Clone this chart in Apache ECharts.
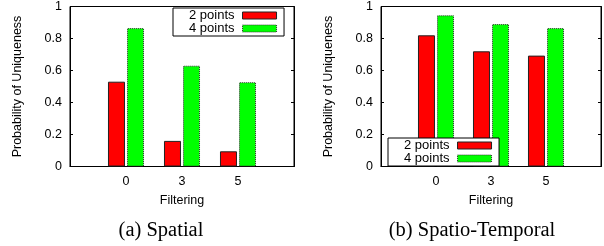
<!DOCTYPE html>
<html>
<head>
<meta charset="utf-8">
<script src="https://cdn.jsdelivr.net/npm/echarts@6/dist/echarts.min.js"></script>
<style>
html,body{margin:0;padding:0;background:#fff;}
#chart{width:604px;height:246px;}
</style>
</head>
<body>
<div id="chart"></div>
<script>
// ---- data ----
var categories = ['', '0', '3', '5', ''];
var seriesNames = ['2 points', '4 points'];
var spatial2 = ['-', 0.53, 0.16, 0.095, '-'];
var spatial4 = ['-', 0.865, 0.63, 0.527, '-'];
var spatioTemporal2 = ['-', 0.82, 0.72, 0.693, '-'];
var spatioTemporal4 = ['-', 0.945, 0.89, 0.865, '-'];
var yTicks = [0, 0.2, 0.4, 0.6, 0.8, 1];
var xAxisName = 'Filtering';
var yAxisName = 'Probability of Uniqueness';
var subTitles = ['(a) Spatial', '(b) Spatio-Temporal'];

var FONT = '"Liberation Sans", Arial, sans-serif';
var chart = echarts.init(document.getElementById('chart'), null, {renderer: 'canvas'});

function yLabel(v) {
  if (yTicks.indexOf(v) < 0) return '';
  return (v === 0 || v === 1) ? String(v) : v.toFixed(1);
}

function xAxis(idx) {
  return {
    type: 'category', gridIndex: idx, data: categories, boundaryGap: false,
    axisLine: {show: true, lineStyle: {color: '#000', width: 1}},
    axisTick: {show: false},
    axisLabel: {color: '#000', fontSize: 12.5, fontFamily: FONT, margin: 9},
    splitLine: {show: false},
    name: xAxisName, nameLocation: 'middle', nameGap: 28,
    nameTextStyle: {color: '#000', fontSize: 12.5, fontFamily: FONT}
  };
}
function yAxis(idx) {
  return {
    type: 'value', gridIndex: idx, min: 0, max: 1, interval: 0.2,
    axisLine: {show: true, lineStyle: {color: '#000', width: 1}},
    axisTick: {show: true, inside: true, length: 3, lineStyle: {color: '#000'}},
    axisLabel: {color: '#000', fontSize: 12.5, fontFamily: FONT, margin: 8, formatter: yLabel},
    splitLine: {show: false},
    name: yAxisName, nameLocation: 'middle', nameGap: 46,
    nameTextStyle: {color: '#000', fontSize: 12.5, fontFamily: FONT}
  };
}
function yMirror(idx) {
  return {
    type: 'value', gridIndex: idx, position: 'right', min: 0, max: 1, interval: 0.2,
    axisLine: {show: true, lineStyle: {color: '#000', width: 1}},
    axisTick: {show: true, inside: true, length: 3, lineStyle: {color: '#000'}},
    axisLabel: {show: false}, splitLine: {show: false}
  };
}

var redStyle = {color: '#ff0000', borderColor: '#222', borderWidth: 1, borderType: 'solid'};
var greenStyle = {color: '#00ff00', borderColor: '#333', borderWidth: 1, borderType: 'dotted'};

function bar(name, data, xi, yi, style) {
  return {
    type: 'bar', name: name, data: data, xAxisIndex: xi, yAxisIndex: yi,
    barWidth: 17, barGap: '12%', itemStyle: style, silent: true, animation: false
  };
}

function legend(pos) {
  return Object.assign({
    orient: 'vertical', align: 'right', icon: 'rect',
    itemWidth: 34, itemHeight: 7, itemGap: 0,
    borderColor: '#000', borderWidth: 1, borderRadius: 0,
    backgroundColor: '#fff', padding: [1, 7, 1, 16],
    textStyle: {color: '#000', fontSize: 13, lineHeight: 12.5, fontFamily: FONT, padding: [0, 3, 0, 0]},
    selectedMode: false,
    data: [
      {name: seriesNames[0], itemStyle: redStyle},
      {name: seriesNames[1], itemStyle: greenStyle}
    ]
  }, pos);
}

chart.setOption({
  animation: false,
  backgroundColor: '#fff',
  grid: [
    {left: 70, top: 6, width: 224, height: 160.5, show: true, borderColor: '#000', borderWidth: 1, backgroundColor: 'transparent'},
    {left: 381, top: 6, width: 225, height: 160.5, show: true, borderColor: '#000', borderWidth: 1, backgroundColor: 'transparent'}
  ],
  xAxis: [xAxis(0), xAxis(1)],
  yAxis: [yAxis(0), yMirror(0), yAxis(1), yMirror(1)],
  legend: [
    legend({left: 173, top: 8}),
    legend({left: 388, top: 138})
  ],
  series: [
    bar(seriesNames[0], spatial2, 0, 0, redStyle),
    bar(seriesNames[1], spatial4, 0, 0, greenStyle),
    bar(seriesNames[0], spatioTemporal2, 1, 2, redStyle),
    bar(seriesNames[1], spatioTemporal4, 1, 2, greenStyle)
  ],
  graphic: [
    {type: 'text', x: 161, y: 231, style: {text: subTitles[0], font: '20.5px "Liberation Serif", "Times New Roman", serif', fill: '#000', textAlign: 'center', textVerticalAlign: 'middle'}},
    {type: 'text', x: 472, y: 231, style: {text: subTitles[1], font: '20.5px "Liberation Serif", "Times New Roman", serif', fill: '#000', textAlign: 'center', textVerticalAlign: 'middle'}}
  ]
});
</script>
</body>
</html>
